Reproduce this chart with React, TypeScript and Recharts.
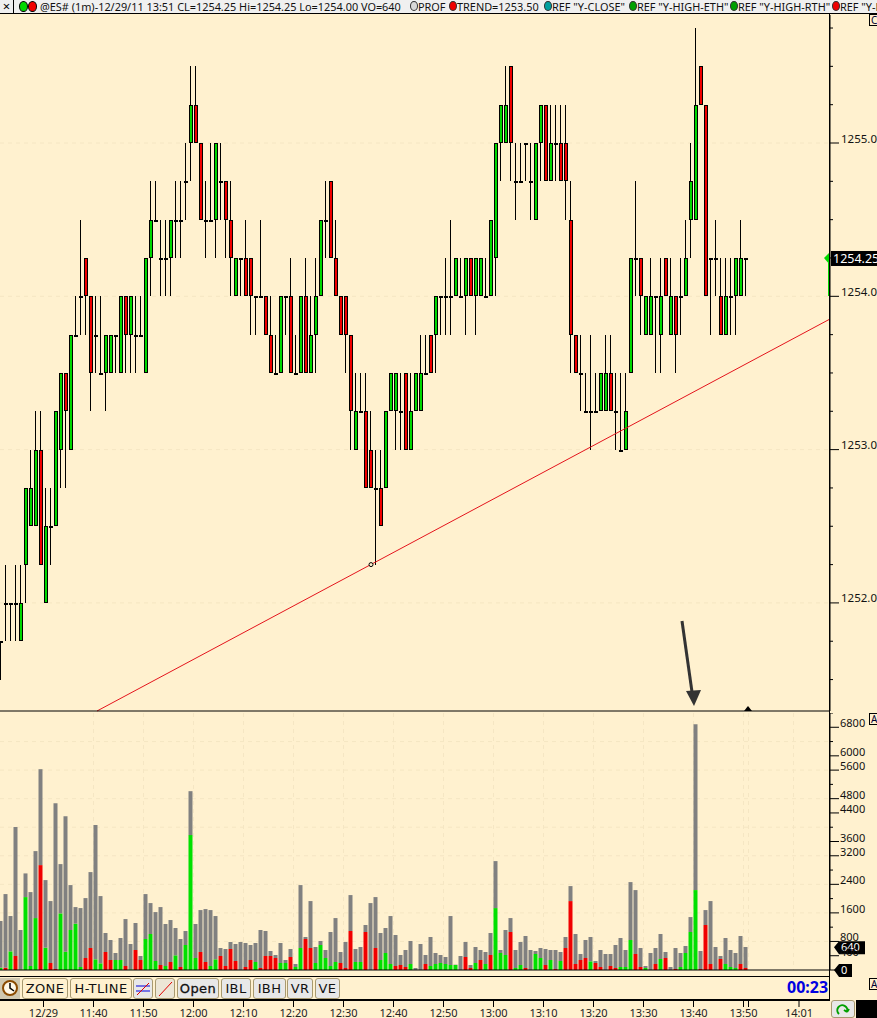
import { ComposedChart, Bar, XAxis, YAxis, CartesianGrid, ReferenceLine, ReferenceDot } from "recharts";

const opens = [
  1251.75, 1252, 1252, 1252, 1251.75, 1252.25, 1252.5, 1252.5, 1253, 1252,
  1252.5, 1252.5, 1253, 1253.5, 1253, 1253.75, 1254, 1254.25, 1254, 1253.75,
  1253.5, 1253.5, 1253.5, 1253.75, 1253.5, 1254, 1253.75, 1253.75, 1253.75, 1253.5,
  1254.25, 1254.5, 1254.25, 1254.25, 1254.25, 1254.5, 1254.5, 1254.75, 1255, 1255.25,
  1255, 1254.5, 1254.5, 1254.5, 1254.75, 1254.75, 1254.5, 1254, 1254.25, 1254.25,
  1254.25, 1254, 1254, 1254, 1253.75, 1253.5, 1253.5, 1254, 1254, 1253.5,
  1253.5, 1254, 1253.5, 1253.75, 1254, 1254.5, 1254.75, 1254.25, 1254, 1254,
  1253.75, 1253, 1253.25, 1253.25, 1253, 1252.75, 1252.75, 1252.75, 1253.25, 1253.25,
  1253.25, 1253.5, 1253, 1253.25, 1253.25, 1253.5, 1253.75, 1253.75, 1254, 1254,
  1254, 1254, 1254, 1254, 1254.25, 1254, 1254, 1254, 1254, 1254.25,
  1255, 1255, 1255.5, 1254.75, 1254.75, 1255, 1254.75, 1254.5, 1255, 1255.25,
  1254.75, 1255, 1255, 1255, 1254.5, 1253.75, 1253.5, 1253.25, 1253.25, 1253.25,
  1253.25, 1253.25, 1253.5, 1253.25, 1253, 1253, 1253.5, 1254.25, 1254.25, 1253.75,
  1253.75, 1254, 1253.75, 1254.25, 1253.75, 1254, 1254, 1254, 1254.5, 1254.5,
  1255.5, 1255.25, 1254.25, 1254.25, 1254, 1253.75, 1254, 1254, 1254, 1254.25,
];
const closes = [
  1251.75, 1252, 1252, 1252, 1252, 1252.75, 1252.75, 1253, 1252.25, 1252.5,
  1252.5, 1253.25, 1253.5, 1253.25, 1253.75, 1253.75, 1254, 1254, 1253.5, 1253.75,
  1253.5, 1253.75, 1253.75, 1253.75, 1254, 1253.75, 1254, 1253.75, 1253.75, 1254.25,
  1254.5, 1254.5, 1254.25, 1254.25, 1254.5, 1254.5, 1254.5, 1254.75, 1255.25, 1255,
  1254.5, 1254.5, 1254.5, 1255, 1254.75, 1254.5, 1254.25, 1254.25, 1254.25, 1254,
  1254, 1254, 1254, 1253.75, 1253.5, 1253.5, 1254, 1254, 1253.5, 1253.5,
  1254, 1253.5, 1253.75, 1254, 1254.5, 1254.5, 1254.25, 1254, 1253.75, 1253.75,
  1253.25, 1253.25, 1253.25, 1252.75, 1252.75, 1252.75, 1252.5, 1253.25, 1253.5, 1253.5,
  1253.25, 1253, 1253.25, 1253.5, 1253.5, 1253.5, 1253.5, 1254, 1254, 1254,
  1254, 1254.25, 1254, 1254.25, 1254, 1254.25, 1254.25, 1254, 1254.5, 1255,
  1255.25, 1255.25, 1255, 1254.75, 1254.75, 1255, 1254.75, 1255, 1255.25, 1254.75,
  1255, 1255, 1254.75, 1254.75, 1253.75, 1253.5, 1253.5, 1253.25, 1253.25, 1253.25,
  1253.5, 1253.5, 1253.25, 1253.25, 1253, 1253.25, 1254.25, 1254.25, 1254, 1254,
  1254, 1254, 1254, 1254, 1254, 1253.75, 1254, 1254.25, 1254.75, 1255.25,
  1255.25, 1254, 1254.25, 1254.25, 1253.75, 1254, 1254, 1254.25, 1254.25, 1254.25,
];
const highs = [
  1251.75, 1252.25, 1252, 1252.25, 1252.25, 1252.75, 1253, 1253.25, 1253.25, 1252.75,
  1252.75, 1253.25, 1253.5, 1253.5, 1253.75, 1254, 1254.5, 1254.25, 1254, 1254,
  1254, 1253.75, 1253.75, 1253.75, 1254, 1254, 1254, 1254, 1254, 1254.25,
  1254.75, 1254.75, 1254.5, 1254.5, 1254.5, 1254.75, 1254.75, 1255, 1255.5, 1255.5,
  1255, 1254.75, 1255, 1255, 1255, 1254.75, 1254.75, 1254.25, 1254.25, 1254.5,
  1254.25, 1254, 1254.5, 1254, 1254, 1253.75, 1254, 1254, 1254.25, 1253.75,
  1254, 1254.25, 1254, 1254.25, 1254.5, 1254.75, 1254.75, 1254.5, 1254, 1254,
  1253.75, 1253.5, 1253.5, 1253.5, 1253.25, 1253, 1253, 1253.25, 1253.5, 1253.5,
  1253.5, 1253.5, 1253.5, 1253.5, 1253.75, 1253.75, 1253.75, 1254, 1254, 1254.25,
  1254.5, 1254.25, 1254.25, 1254.25, 1254.25, 1254.25, 1254.25, 1254.25, 1254.5, 1255,
  1255.25, 1255.5, 1255.5, 1255, 1255, 1255, 1255, 1255, 1255.25, 1255.25,
  1255.25, 1255.25, 1255.25, 1255.25, 1254.75, 1253.75, 1253.75, 1253.5, 1253.75, 1253.5,
  1253.5, 1253.75, 1253.75, 1253.5, 1253.5, 1253.5, 1254.25, 1254.75, 1254.25, 1254,
  1254.25, 1254, 1254.25, 1254.25, 1254.25, 1254, 1254.25, 1254.5, 1255, 1255.75,
  1255.5, 1255.25, 1254.25, 1254.5, 1254.25, 1254.25, 1254.25, 1254.25, 1254.5, 1254.25,
];
const lows = [
  1251.5, 1251.75, 1251.75, 1251.75, 1251.75, 1252, 1252.5, 1252.5, 1252.25, 1252,
  1252.25, 1252.5, 1252.75, 1252.75, 1253, 1253.75, 1253.75, 1253.75, 1253.25, 1253.5,
  1253.5, 1253.25, 1253.5, 1253.5, 1253.5, 1253.5, 1253.5, 1253.5, 1253.75, 1253.5,
  1254, 1254.5, 1254, 1254, 1254, 1254.25, 1254.25, 1254.5, 1254.75, 1255,
  1254.5, 1254.25, 1254.5, 1254.25, 1254.5, 1254.25, 1254, 1254, 1254, 1254,
  1253.75, 1253.75, 1254, 1253.75, 1253.5, 1253.5, 1253.5, 1253.75, 1253.5, 1253.5,
  1253.5, 1253.5, 1253.5, 1253.5, 1254, 1254.25, 1254.25, 1254, 1253.75, 1253.5,
  1253, 1253, 1253.25, 1252.75, 1252.75, 1252.25, 1252.5, 1252.75, 1253.25, 1253,
  1253, 1253, 1253, 1253.25, 1253.25, 1253.5, 1253.5, 1253.5, 1253.75, 1253.75,
  1253.75, 1254, 1254, 1253.75, 1254, 1253.75, 1254, 1254, 1254, 1254,
  1254.75, 1255, 1254.75, 1254.5, 1254.75, 1254.75, 1254.5, 1254.5, 1254.75, 1254.75,
  1254.75, 1254.75, 1254.75, 1254.5, 1253.5, 1253.5, 1253.25, 1253.25, 1253, 1253.25,
  1253.25, 1253.25, 1253.25, 1253, 1253, 1253, 1253.5, 1254, 1253.75, 1253.75,
  1253.75, 1253.5, 1253.5, 1254, 1253.75, 1253.5, 1253.75, 1254, 1254.25, 1254.5,
  1255.25, 1254, 1253.75, 1254, 1253.75, 1253.75, 1253.75, 1253.75, 1254, 1254,
];

const volumes = [
  1372, 2127, 1512, 4003, 1120, 2706, 2183, 3331, 5626, 2519,
  1931, 4674, 2967, 4310, 2379, 1763, 1735, 2015, 2743, 4059,
  2071, 1036, 840, 476, 896, 1427, 728, 1316, 392, 2127,
  1875, 1623, 1763, 1288, 1400, 1176, 868, 1092, 5010, 1288,
  1679, 1707, 1679, 1512, 616, 588, 784, 728, 784, 756,
  700, 756, 1120, 1092, 532, 420, 756, 280, 588, 168,
  2379, 924, 1931, 644, 812, 560, 1064, 1455, 504, 784,
  2099, 588, 644, 1260, 1875, 2043, 1036, 1176, 1512, 980,
  420, 560, 812, 56, 728, 420, 924, 476, 420, 364,
  1512, 149, 392, 784, 140, 644, 560, 504, 1036, 3051,
  560, 1120, 1455, 560, 784, 952, 560, 532, 616, 588,
  560, 560, 504, 924, 2351, 1008, 448, 840, 924, 252,
  560, 448, 448, 700, 896, 560, 2463, 2239, 616, 112,
  476, 616, 1008, 504, 84, 616, 476, 672, 1483, 6886,
  532, 1679, 1931, 644, 392, 896, 560, 476, 952, 644,
];
const volumeParts = [
  65, 65, 522, 392, 19, 2043, 112, 1455, 2939, 625,
  196, 28, 1586, 513, 1120, 1297, 84, 336, 616, 299,
  187, 504, 280, 280, 280, 112, 19, 560, 280, 868,
  1008, 252, 140, 112, 224, 411, 84, 700, 3779, 336,
  504, 224, 112, 299, 392, 112, 588, 252, 0, 84,
  280, 224, 56, 392, 392, 336, 196, 196, 364, 84,
  616, 868, 616, 196, 700, 336, 112, 224, 196, 56,
  1092, 224, 224, 1064, 0, 616, 280, 476, 168, 112,
  140, 84, 168, 0, 0, 168, 112, 168, 196, 168,
  140, 140, 0, 364, 56, 196, 280, 168, 420, 1735,
  476, 420, 1064, 56, 140, 56, 0, 448, 336, 140,
  280, 28, 252, 616, 1931, 168, 280, 336, 243, 196,
  84, 0, 112, 56, 84, 84, 840, 448, 84, 56,
  0, 168, 308, 336, 0, 28, 84, 476, 1064, 2239,
  28, 1260, 168, 0, 308, 168, 84, 56, 168, 56,
];
const volumeSides = [
  "g", "r", "g", "r", "g", "g", "g", "g", "r", "g",
  "r", "r", "g", "g", "g", "g", "g", "r", "r", "g",
  "g", "r", "r", "g", "g", "r", "g", "r", "r", "g",
  "g", "g", "r", "g", "r", "g", "r", "g", "g", "g",
  "r", "r", "g", "g", "r", "r", "r", "r", "", "r",
  "r", "g", "r", "r", "r", "r", "g", "g", "r", "g",
  "g", "r", "r", "g", "g", "g", "g", "g", "r", "r",
  "r", "g", "g", "r", "", "r", "g", "g", "g", "r",
  "r", "r", "g", "", "", "r", "g", "g", "g", "g",
  "g", "g", "", "r", "r", "g", "r", "g", "r", "g",
  "g", "g", "r", "g", "g", "r", "", "g", "g", "r",
  "g", "r", "g", "r", "r", "r", "r", "r", "g", "r",
  "r", "", "r", "r", "g", "g", "g", "r", "r", "g",
  "", "r", "g", "r", "", "r", "g", "g", "g", "g",
  "r", "r", "r", "", "r", "g", "g", "g", "r", "r",
];

const priceTicks = [
  1251.5, 1251.75, 1252, 1252.25, 1252.5, 1252.75, 1253, 1253.25, 1253.5, 1253.75,
  1254, 1254.25, 1254.5, 1254.75, 1255, 1255.25, 1255.5, 1255.75,
];
const priceLabels = [1252, 1253, 1254, 1255];
const volumeTicks = [
  0, 400, 800, 1200, 1600, 2000, 2400, 2800, 3200, 3600,
  4000, 4400, 4800, 5200, 5600, 6000, 6400, 6800, 7200,
];
const volumeLabels = [400, 800, 1600, 2400, 3200, 3600, 4400, 4800, 5600, 6000, 6800];
const volumeGrid = [800, 1600, 2400, 3200, 4000, 4800, 5600, 6400];
const timeSlots = [
  8.5, 18.5, 28.5, 38.5, 48.5, 58.5, 68.5, 78.5, 88.5, 98.5,
  108.5, 118.5, 128.5, 138.5, 148.5, 149.5, 159.6,
];
const timeLabels = [
  "12/29", "11:40", "11:50", "12:00", "12:10", "12:20", "12:30", "12:40", "12:50", "13:00",
  "13:10", "13:20", "13:30", "13:40", "13:50", "", "14:01",
];
const gridSlots = [
  18.5, 28.5, 38.5, 48.5, 58.5, 68.5, 78.5, 88.5, 98.5, 108.5,
  118.5, 128.5, 138.5, 148.5, 149.5, 158.5,
];

const candles = opens.map((open, i) => ({
  i,
  open,
  close: closes[i],
  high: highs[i],
  low: lows[i],
  range: [lows[i], highs[i]],
}));
const volumeRows = volumes.map((total, i) => ({
  i,
  green: volumeSides[i] === "g" ? volumeParts[i] : 0,
  red: volumeSides[i] === "r" ? volumeParts[i] : 0,
  rest: total - volumeParts[i],
}));

const BG = "#fff1cf";
const GRID = "#f5e6c3";
const UI_FONT = '"Noto Sans", sans-serif';
const X_DOMAIN = [-0.2, 165.8];

function Candle(props: any) {
  const { x, y, width, height, payload } = props;
  const { open, close, high, low } = payload;
  const perPoint = height / (high - low);
  const yOf = (p: number) => Math.round(y + (high - p) * perPoint);
  const c = Math.round(x + width / 2);
  const top = yOf(Math.max(open, close));
  const bottom = yOf(Math.min(open, close));
  return (
    <g shapeRendering="crispEdges">
      <rect x={c - 1} y={yOf(high)} width={1} height={yOf(low) - yOf(high)} fill="#000" />
      {open === close ? (
        <rect x={c - 2} y={top} width={4} height={2} fill="#000" />
      ) : (
        <rect
          x={c - 1.5}
          y={top + 0.5}
          width={3}
          height={bottom - top - 1}
          fill={close > open ? "#00d800" : "#f00000"}
          stroke="#000"
        />
      )}
    </g>
  );
}

function PriceTick({ x, y, payload }: any) {
  const major = priceLabels.includes(payload.value);
  return (
    <g>
      <line x1={x} x2={x + (major ? 9 : 3)} y1={y} y2={y} stroke="#000" />
      {major && (
        <text x={x + 11} y={y - 0.5} fontSize={11.5} fontFamily={UI_FONT} fill="#111">
          {payload.value.toFixed(2)}
        </text>
      )}
    </g>
  );
}

function VolumeTick({ x, y, payload }: any) {
  const major = volumeLabels.includes(payload.value) || payload.value === 0;
  return (
    <g>
      <line x1={x} x2={x + (major ? 9 : 3)} y1={y} y2={y} stroke="#000" />
      {major && payload.value !== 0 && (
        <text x={x + 10} y={y} fontSize={11} fontFamily={UI_FONT} fill="#111">
          {payload.value}
        </text>
      )}
    </g>
  );
}

function TimeTick({ x, y, index }: any) {
  return (
    <g>
      <line x1={x} x2={x} y1={y + 30} y2={y + 37} stroke="#000" />
      <text x={x} y={y + 47} textAnchor="middle" fontSize={11} fontFamily={UI_FONT} fill="#222">
        {timeLabels[index]}
      </text>
    </g>
  );
}

function PriceTag({ cx, cy }: any) {
  return (
    <g>
      <rect x={cx - 2} y={cy + 5} width={2} height={33} fill="#00d800" />
      <path d={`M${cx - 6} ${cy} L${cx} ${cy - 6} L${cx} ${cy + 7} Z`} fill="#00d800" />
      <rect x={cx + 1} y={cy - 7} width={47} height={15} fill="#000" />
      <text x={cx + 3} y={cy + 5} fontSize={12.5} fontFamily={UI_FONT} fill="#fff">
        1254.25
      </text>
    </g>
  );
}

function VolumeTag({ cx, cy, value }: any) {
  const w = value === 0 ? 13 : 26;
  return (
    <g>
      <path
        d={`M${cx + 4} ${cy} L${cx + 9} ${cy - 6} L${cx + 9 + w} ${cy - 6} L${cx + 9 + w} ${cy + 7} L${cx + 9} ${cy + 7} Z`}
        fill="#000"
      />
      <text x={cx + 11} y={cy + 4} fontSize={11} fontFamily={UI_FONT} fill="#fff">
        {value}
      </text>
    </g>
  );
}

function ArrowHead({ cx, cy }: any) {
  return <path d={`M${cx} ${cy} L${cx - 8} ${cy - 15} L${cx + 7} ${cy - 16} Z`} fill="#333" />;
}

function OpenDot({ cx, cy }: any) {
  return <circle cx={cx} cy={cy} r={2} fill={BG} stroke="#000" />;
}

function SessionMark({ cx, cy }: any) {
  return <path d={`M${cx} ${cy - 5} L${cx + 4} ${cy} L${cx - 4} ${cy} Z`} fill="#000" />;
}

const headerItems = [
  { x: 40, dot: "", text: "@ES# (1m)-12/29/11 13:51 CL=1254.25 Hi=1254.25 Lo=1254.00 VO=640" },
  { x: 418, dot: "#d8d8d8", text: "PROF" },
  { x: 457, dot: "#f00000", text: "TREND=1253.50" },
  { x: 552, dot: "#00a0a0", text: 'REF "Y-CLOSE"' },
  { x: 637, dot: "#00a000", text: 'REF "Y-HIGH-ETH"' },
  { x: 738, dot: "#00a000", text: 'REF "Y-HIGH-RTH"' },
  { x: 840, dot: "#f00000", text: 'REF "Y-LOW' },
];

const toolButtons = [
  { x: 22, w: 46, label: "ZONE", bg: BG, weight: 400 },
  { x: 70, w: 62, label: "H-TLINE", bg: BG, weight: 400 },
  { x: 133, w: 20, label: "", bg: "#e8e8e8", weight: 400 },
  { x: 155, w: 20, label: "", bg: "#ece6d6", weight: 400 },
  { x: 177, w: 42, label: "Open", bg: "#e8e8e8", weight: 700 },
  { x: 221, w: 30, label: "IBL", bg: "#e8e8e8", weight: 400 },
  { x: 253, w: 33, label: "IBH", bg: "#e8e8e8", weight: 400 },
  { x: 287, w: 26, label: "VR", bg: "#e8e8e8", weight: 400 },
  { x: 315, w: 25, label: "VE", bg: "#e8e8e8", weight: 400 },
];

function abs(x: number, y: number, w: number, h: number, extra: any = {}) {
  return { position: "absolute", left: x, top: y, width: w, height: h, ...extra } as any;
}

export default function App() {
  return (
    <div style={abs(0, 0, 877, 1018, { background: BG, overflow: "hidden" })}>
      <div style={abs(0, 0, 877, 13, { background: "#f0f0f0", borderBottom: "1px solid #000" })}>
        <div style={abs(0, 0, 13, 13, { borderRight: "1px solid #000", fontSize: 13, lineHeight: "13px", textAlign: "center", fontFamily: UI_FONT })}>×</div>
        <div style={abs(19, 1, 7, 9, { borderRadius: "50%", background: "#00d800", border: "1px solid #000" })} />
        <div style={abs(28, 1, 7, 9, { borderRadius: "50%", background: "#f00000", border: "1px solid #000" })} />
        {headerItems.map((item) => (
          <div key={item.x}>
            {item.dot && (
              <div style={abs(item.x - 8, 1, 6, 8, { borderRadius: "50%", background: item.dot, border: "1px solid #333" })} />
            )}
            <div
              style={{
                position: "absolute",
                left: item.x,
                top: -1,
                fontSize: 10.9,
                lineHeight: "15px",
                whiteSpace: "nowrap",
                fontFamily: UI_FONT,
                color: "#111",
              }}
            >
              {item.text}
            </div>
          </div>
        ))}
      </div>

      <div style={abs(0, 15, 877, 697)}>
        <ComposedChart width={877} height={697} data={candles} margin={{ top: 0, right: 0, bottom: 0, left: 0 }}>
          <CartesianGrid stroke={GRID} strokeDasharray="4 4" horizontalValues={priceLabels} verticalValues={gridSlots} />
          <XAxis
            dataKey="i"
            type="number"
            domain={X_DOMAIN}
            allowDataOverflow
            ticks={timeSlots}
            tick={false}
            tickLine={false}
            height={1}
            axisLine={{ stroke: "#000" }}
          />
          <YAxis
            orientation="right"
            width={47}
            domain={[1251.295, 1255.835]}
            allowDataOverflow
            ticks={priceTicks}
            interval={0}
            tick={<PriceTick />}
            tickLine={false}
            tickSize={0}
            tickMargin={0}
            axisLine={{ stroke: "#000" }}
          />
          <Bar dataKey="range" barSize={4} shape={Candle} isAnimationActive={false} />
          <ReferenceLine
            segment={[{ x: 19.2, y: 1251.295 }, { x: 165.8, y: 1253.852 }]}
            stroke="#e4141c"
            ifOverflow="visible"
          />
          <ReferenceLine
            segment={[{ x: 136.2, y: 1251.882 }, { x: 138.2, y: 1251.419 }]}
            stroke="#333"
            strokeWidth={3}
            ifOverflow="visible"
          />
          <ReferenceDot x={138.6} y={1251.327} shape={ArrowHead} ifOverflow="visible" />
          <ReferenceDot x={74} y={1252.25} shape={OpenDot} ifOverflow="visible" />
          <ReferenceDot x={149.4} y={1251.295} shape={SessionMark} ifOverflow="visible" />
          <ReferenceDot x={165.8} y={1254.25} shape={PriceTag} ifOverflow="visible" />
        </ComposedChart>
      </div>

      <div style={abs(0, 713, 877, 305)}>
        <ComposedChart width={877} height={305} data={volumeRows} margin={{ top: 0, right: 0, bottom: 0, left: 0 }}>
          <CartesianGrid stroke={GRID} strokeDasharray="4 4" horizontalValues={volumeGrid} verticalValues={gridSlots} />
          <XAxis
            dataKey="i"
            type="number"
            domain={X_DOMAIN}
            allowDataOverflow
            ticks={timeSlots}
            interval={0}
            tick={<TimeTick />}
            tickLine={false}
            tickSize={0}
            tickMargin={0}
            height={48}
            axisLine={{ stroke: "#000" }}
          />
          <YAxis
            orientation="right"
            width={47}
            domain={[0, 7200]}
            allowDataOverflow
            ticks={volumeTicks}
            interval={0}
            tick={<VolumeTick />}
            tickLine={false}
            tickSize={0}
            tickMargin={0}
            axisLine={{ stroke: "#000" }}
          />
          <Bar dataKey="green" stackId="vol" barSize={4} fill="#00e000" isAnimationActive={false} />
          <Bar dataKey="red" stackId="vol" barSize={4} fill="#f00000" isAnimationActive={false} />
          <Bar dataKey="rest" stackId="vol" barSize={4} fill="#808080" isAnimationActive={false} />
          <ReferenceDot x={165.8} y={640} shape={(p: any) => <VolumeTag {...p} value={640} />} ifOverflow="visible" />
          <ReferenceDot x={165.8} y={0} shape={(p: any) => <VolumeTag {...p} value={0} />} ifOverflow="visible" />
        </ComposedChart>
      </div>

      <div style={abs(829, 14, 1, 986, { background: "#000" })} />
      <div style={abs(0, 976, 830, 1, { background: "#000" })} />
      <div style={abs(0, 999, 830, 2, { background: "#000" })} />

      <div style={abs(0, 978, 20, 21, { background: "#d0c8b0" })}>
        <svg width={20} height={21}>
          <circle cx={10} cy={10} r={7} fill="#fff8e8" stroke="#8a4a00" strokeWidth={2} />
          <path d="M10 5 L10 10 L14 13" fill="none" stroke="#000" strokeWidth={1.5} />
        </svg>
      </div>
      {toolButtons.map((b) => (
        <div
          key={b.x}
          style={abs(b.x, 978, b.w - 2, 19, {
            background: b.bg,
            border: "1px solid #a89a70",
            borderRadius: 3,
            fontFamily: '"DejaVu Sans", sans-serif',
            fontSize: 13,
            fontWeight: 400,
            letterSpacing: 0.4,
            WebkitTextStroke: b.weight === 700 ? "0.3px #111" : undefined,
            lineHeight: "19px",
            textAlign: "center",
            color: "#111",
          })}
        >
          {b.label}
        </div>
      ))}
      <svg style={abs(133, 978, 20, 21)}>
        <path d="M3 8 H17 M3 13 H17" stroke="#0000e0" />
        <path d="M4 17 L16 5" stroke="#e00000" />
      </svg>
      <svg style={abs(155, 978, 20, 21)}>
        <path d="M4 18 L17 4" stroke="#e00000" />
      </svg>

      <div style={{ position: "absolute", left: 787, top: 977, fontFamily: UI_FONT, fontWeight: 700, fontSize: 16, color: "#0000e0", lineHeight: "20px" }}>
        00:23
      </div>

      <div style={abs(831, 1000, 24, 18, { background: "#e8e8e8", border: "1px solid #a89a70", boxSizing: "border-box", borderRadius: 3 })}>
        <svg width={22} height={16}>
          <path d="M7 13 A5 5 0 1 1 15 11 M15 11 L12 9 M15 11 L17 8" fill="none" stroke="#00a000" strokeWidth={2} />
        </svg>
      </div>
      <div style={abs(856, 1000, 21, 18, { background: "#000" })} />

      {[
        { y: 14, t: "C" },
        { y: 713, t: "A" },
        { y: 978, t: "A" },
      ].map((m) => (
        <div
          key={m.y}
          style={abs(869, m.y, 12, 10, { border: "1px solid #000", fontSize: 10, lineHeight: "10px", paddingLeft: 1, fontFamily: UI_FONT, color: "#003" })}
        >
          {m.t}
        </div>
      ))}
    </div>
  );
}
